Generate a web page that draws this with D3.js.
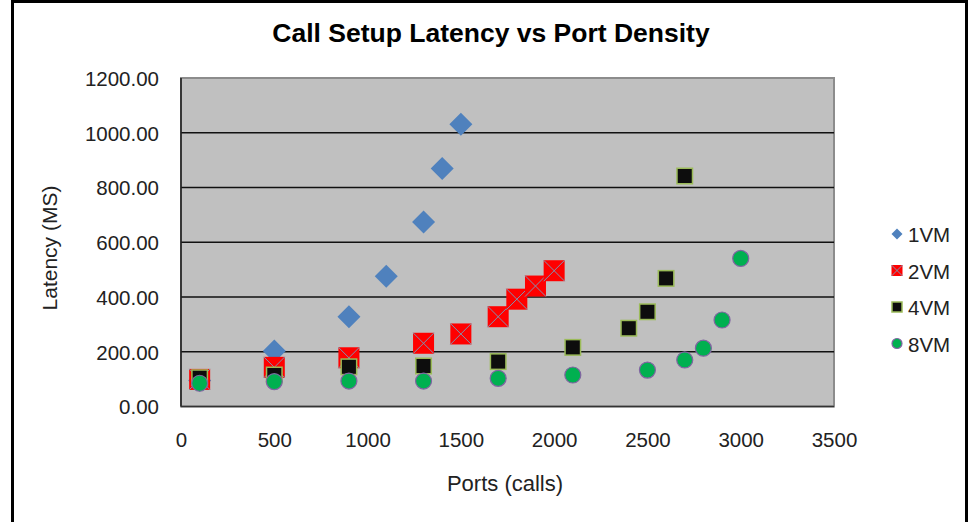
<!DOCTYPE html>
<html>
<head>
<meta charset="utf-8">
<script src="https://cdn.jsdelivr.net/npm/d3@7"></script>
<style>
  html, body { margin: 0; padding: 0; background: #fff; }
  svg { display: block; font-family: "Liberation Sans", Arial, sans-serif; }
</style>
</head>
<body>
<div id="chart"></div>
<script>
// Series data
const seriesNames = ["1VM", "2VM", "4VM", "8VM"];
const ports1 = [100, 500, 900, 1100, 1300, 1400, 1500];
const latency1 = [95, 203, 328, 476, 674, 869, 1031];
const ports2 = [100, 500, 900, 1300, 1500, 1700, 1800, 1900, 2000];
const latency2 = [99, 143, 178, 231, 265, 328, 392, 440, 496];
const ports4 = [100, 500, 900, 1300, 1700, 2100, 2400, 2500, 2600, 2700];
const latency4 = [105, 115, 145, 148, 164, 216, 286, 346, 468, 842];
const ports8 = [100, 500, 900, 1300, 1700, 2100, 2500, 2700, 2800, 2900, 3000];
const latency8 = [85, 91, 93, 93, 103, 115, 133, 170, 213, 316, 541];
const xTicks = [0, 500, 1000, 1500, 2000, 2500, 3000, 3500];
const yTicks = [0, 200, 400, 600, 800, 1000, 1200];

const W = 978, H = 522;
const plot = { left: 181, right: 834, top: 78, bottom: 406.5 };

const svg = d3.select("#chart").append("svg")
  .attr("width", W).attr("height", H);

const x = d3.scaleLinear().domain([0, 3500]).range([plot.left, plot.right]);
const y = d3.scaleLinear().domain([0, 1200]).range([plot.bottom, plot.top]);

// outer frame (open at the bottom)
svg.append("path")
  .attr("d", `M12.5,${H + 5} V1.5 H966.5 V${H + 5}`)
  .attr("fill", "none").attr("stroke", "#000").attr("stroke-width", 3);

// title
svg.append("text")
  .attr("x", 491).attr("y", 42)
  .attr("text-anchor", "middle")
  .attr("font-size", 26.5).attr("font-weight", "bold")
  .text("Call Setup Latency vs Port Density");

// plot area
svg.append("rect")
  .attr("x", plot.left).attr("y", plot.top)
  .attr("width", plot.right - plot.left).attr("height", plot.bottom - plot.top)
  .attr("fill", "#c0c0c0").attr("stroke", "#8c8c8c").attr("stroke-width", 2);

// gridlines
svg.append("g").selectAll("line")
  .data(yTicks.filter(v => v > 0 && v < 1200))
  .join("line")
  .attr("x1", plot.left).attr("x2", plot.right)
  .attr("y1", d => y(d)).attr("y2", d => y(d))
  .attr("stroke", "#111").attr("stroke-width", 1.5);

// axis lines
svg.append("line")
  .attr("x1", plot.left).attr("x2", plot.left)
  .attr("y1", plot.top).attr("y2", plot.bottom)
  .attr("stroke", "#222").attr("stroke-width", 1.6);
svg.append("line")
  .attr("x1", plot.left).attr("x2", plot.right)
  .attr("y1", plot.bottom).attr("y2", plot.bottom)
  .attr("stroke", "#333").attr("stroke-width", 1.6);

// axes (labels only)
const yAxis = d3.axisLeft(y).tickValues(yTicks).tickFormat(d3.format(".2f")).tickSize(0).tickPadding(22);
const gy = svg.append("g").attr("transform", `translate(${plot.left},0)`).call(yAxis);
gy.select(".domain").remove();
gy.selectAll("text").attr("font-size", 20.5).attr("fill", "#222")
  .attr("font-family", "'Liberation Sans', Arial, sans-serif").attr("dy", "0.36em");

const xAxis = d3.axisBottom(x).tickValues(xTicks).tickFormat(d3.format("d")).tickSize(0).tickPadding(26);
const gx = svg.append("g").attr("transform", `translate(0,${plot.bottom})`).call(xAxis);
gx.select(".domain").remove();
gx.selectAll("text").attr("font-size", 20.5).attr("fill", "#222")
  .attr("font-family", "'Liberation Sans', Arial, sans-serif");

// axis titles
svg.append("text")
  .attr("x", 505).attr("y", 491)
  .attr("text-anchor", "middle").attr("font-size", 22).attr("fill", "#222")
  .text("Ports (calls)");
svg.append("text")
  .attr("transform", "translate(57,248) rotate(-90)")
  .attr("text-anchor", "middle").attr("font-size", 21).attr("fill", "#222")
  .text("Latency (MS)");

// marker drawers
const symbols = {
  "1VM": (g, s) => g.append("path")
      .attr("d", `M0,${-s / 2} L${s / 2},0 L0,${s / 2} L${-s / 2},0 Z`)
      .attr("fill", "#4f81bd"),
  "2VM": (g, s) => {
    g.append("rect").attr("x", -s / 2).attr("y", -s / 2).attr("width", s).attr("height", s)
      .attr("fill", "#ff0000");
    g.append("path")
      .attr("d", `M${-s / 2},${-s / 2} L${s / 2},${s / 2} M${s / 2},${-s / 2} L${-s / 2},${s / 2}`)
      .attr("stroke", "#7f93b0").attr("stroke-width", 1);
  },
  "4VM": (g, s) => g.append("rect").attr("x", -s / 2).attr("y", -s / 2).attr("width", s).attr("height", s)
      .attr("fill", "#0d0d0d").attr("stroke", "#9bbb59").attr("stroke-width", 1.5),
  "8VM": (g, s) => g.append("circle").attr("r", s / 2)
      .attr("fill", "#00b050").attr("stroke", "#8064a2").attr("stroke-width", 1.2)
};

const series = [
  { name: "1VM", xs: ports1, ys: latency1, size: 23, legendSize: 11 },
  { name: "2VM", xs: ports2, ys: latency2, size: 21, legendSize: 11 },
  { name: "4VM", xs: ports4, ys: latency4, size: 15.5, legendSize: 10 },
  { name: "8VM", xs: ports8, ys: latency8, size: 16, legendSize: 10 }
];

series.forEach(s => {
  const pts = s.xs.map((p, i) => ({ p, v: s.ys[i] }));
  svg.append("g").selectAll("g")
    .data(pts)
    .join("g")
    .attr("transform", d => `translate(${x(d.p)},${y(d.v)})`)
    .each(function () { symbols[s.name](d3.select(this), s.size); });
});

// legend
const legend = svg.append("g");
seriesNames.forEach((name, i) => {
  const s = series.find(d => d.name === name);
  const row = legend.append("g").attr("transform", `translate(897,${234 + i * 36.5})`);
  symbols[name](row, s.legendSize);
  row.append("text").attr("x", 11).attr("y", 8)
    .attr("font-size", 20.5).attr("fill", "#222").text(name);
});
</script>
</body>
</html>
